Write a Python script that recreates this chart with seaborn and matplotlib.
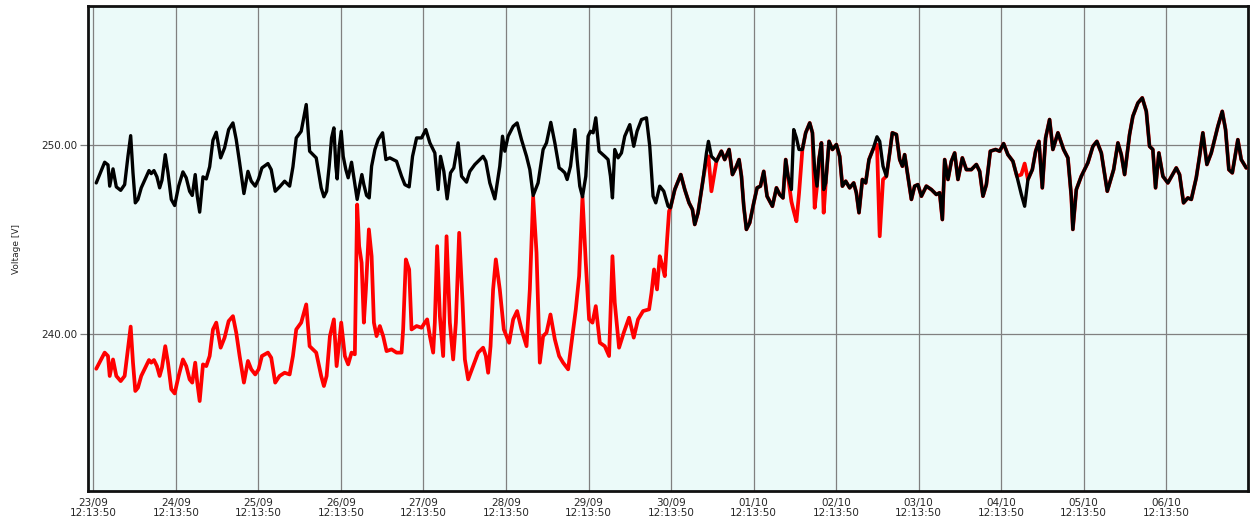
import matplotlib
matplotlib.use("Agg")
import matplotlib.pyplot as plt
import matplotlib.dates as mdates
import numpy as np
import pandas as pd
import seaborn as sns

# Logger start and the two voltage traces (time in days since start, voltage in V)
start_time = "2021-09-23 12:13:50"

black_day = [
    0.036, 0.138, 0.178, 0.199, 0.239, 0.279, 0.332, 0.380, 0.420, 0.453,
    0.481, 0.509, 0.541, 0.581, 0.630, 0.675, 0.702, 0.735, 0.771, 0.804,
    0.832, 0.872, 0.905, 0.945, 0.986, 1.034, 1.086, 1.126, 1.167, 1.199,
    1.235, 1.260, 1.289, 1.329, 1.369, 1.410, 1.450, 1.490, 1.543, 1.591,
    1.640, 1.692, 1.732, 1.773, 1.825, 1.874, 1.914, 1.962, 2.003, 2.043,
    2.116, 2.156, 2.204, 2.257, 2.318, 2.379, 2.419, 2.459, 2.519, 2.580,
    2.621, 2.701, 2.761, 2.794,
    2.827, 2.858, 2.887, 2.915, 2.939, 2.955, 2.979, 3.004, 3.028, 3.060,
    3.088, 3.129, 3.161, 3.197, 3.230, 3.254, 3.278, 3.311, 3.343, 3.372,
    3.412, 3.452, 3.505, 3.545, 3.593, 3.674, 3.735, 3.775, 3.827, 3.868,
    3.917, 3.977, 4.029, 4.078, 4.138, 4.178, 4.207, 4.247, 4.287, 4.328,
    4.368, 4.420, 4.462, 4.522, 4.562, 4.623, 4.723, 4.756, 4.804, 4.865,
    4.925, 4.958, 4.986, 5.026, 5.087, 5.135, 5.188, 5.249, 5.289, 5.329,
    5.389, 5.450, 5.491, 5.543, 5.592, 5.644,
    5.673, 5.713, 5.741, 5.782, 5.834, 5.862, 5.894, 5.927, 5.967, 5.995,
    6.024, 6.056, 6.088, 6.128, 6.197, 6.237, 6.266, 6.290, 6.318, 6.358,
    6.399, 6.439, 6.500, 6.548, 6.588, 6.642, 6.702, 6.742, 6.782, 6.815,
    6.863, 6.912, 6.964, 6.993, 7.045, 7.118, 7.166, 7.218, 7.259, 7.287,
    7.327, 7.388, 7.429, 7.453, 7.489, 7.550, 7.610, 7.650, 7.703, 7.744,
    7.784, 7.824, 7.853, 7.881, 7.913, 7.953, 8.002, 8.042, 8.083, 8.123,
    8.163, 8.228, 8.277, 8.316, 8.356, 8.389, 8.417, 8.458, 8.486, 8.519,
    8.550, 8.591, 8.631, 8.680, 8.713, 8.740, 8.768, 8.792, 8.822, 8.849,
    8.874, 8.914, 8.955, 9.003, 9.043, 9.076, 9.116, 9.164, 9.213, 9.245,
    9.277, 9.318, 9.358, 9.398, 9.446, 9.495, 9.528, 9.568, 9.609, 9.649,
    9.681, 9.730, 9.770, 9.803, 9.830, 9.870, 9.912, 9.951, 9.991, 10.033,
    10.093, 10.154, 10.214, 10.254, 10.287, 10.315, 10.355, 10.396, 10.436, 10.476,
    10.529, 10.578, 10.638, 10.699, 10.739, 10.779, 10.820, 10.868, 10.932, 10.981,
    11.029, 11.081, 11.142, 11.190,
    11.244, 11.284, 11.324, 11.377, 11.417, 11.457, 11.498, 11.538, 11.586, 11.626,
    11.687, 11.756, 11.808, 11.849, 11.868, 11.910, 11.970, 12.050, 12.111, 12.159,
    12.213, 12.285, 12.362, 12.414, 12.455, 12.495, 12.555, 12.595, 12.656, 12.709,
    12.758, 12.797, 12.837, 12.870, 12.910, 12.959, 13.019, 13.121, 13.161, 13.209,
    13.261, 13.303, 13.363, 13.403, 13.443, 13.492, 13.545, 13.625, 13.678, 13.718,
    13.758, 13.800, 13.867, 13.908, 13.969,
]

black_volt = [
    247.98, 249.07, 248.93, 247.81, 248.72, 247.77, 247.59, 247.89, 249.38, 250.47,
    248.51, 246.93, 247.11, 247.72, 248.19, 248.63, 248.47, 248.63, 248.30, 247.72,
    248.12, 249.47, 248.51, 247.11, 246.79, 247.81, 248.56, 248.25, 247.54, 247.32,
    248.42, 247.28, 246.44, 248.30, 248.19, 248.83, 250.23, 250.65, 249.30, 249.83,
    250.79, 251.14, 250.26, 249.04, 247.42, 248.59, 248.07, 247.81, 248.19, 248.77,
    249.00, 248.68, 247.54, 247.77, 248.07, 247.81, 248.83, 250.35, 250.70, 252.11,
    249.65, 249.30, 247.72, 247.25,
    247.54, 248.86, 250.35, 250.88, 248.86, 248.19, 249.83, 250.70, 249.38, 248.68,
    248.25, 249.07, 248.16, 247.11, 247.89, 248.42, 247.89, 247.32, 247.19, 248.86,
    249.74, 250.26, 250.62, 249.21, 249.30, 249.12, 248.33, 247.89, 247.77, 249.38,
    250.35, 250.35, 250.79, 250.09, 249.56, 247.63, 249.38, 248.59, 247.14, 248.51,
    248.77, 250.09, 248.33, 248.02, 248.59, 248.95, 249.38, 249.12, 247.98, 247.14,
    248.86, 250.44, 249.65, 250.44, 250.96, 251.14, 250.26, 249.38, 248.68, 247.32,
    247.98, 249.74, 250.09, 251.17, 250.09, 248.77,
    248.68, 248.51, 248.16, 248.86, 250.79, 249.21, 247.81, 247.25, 248.33, 250.44,
    250.70, 250.62, 251.41, 249.65, 249.38, 249.21, 248.33, 247.19, 249.74, 249.30,
    249.56, 250.44, 251.05, 249.91, 250.70, 251.32, 251.41, 249.91, 247.28, 246.93,
    247.81, 247.54, 246.75, 246.67, 247.63, 248.42, 247.63, 246.93, 246.58, 245.79,
    246.41, 248.16, 249.56, 250.17, 249.38, 249.12, 249.65, 249.21, 249.74, 248.42,
    248.77, 249.21, 248.33, 246.75, 245.53, 245.88, 246.93, 247.72, 247.81, 248.59,
    247.28, 246.75, 247.72, 247.37, 247.19, 249.21, 248.33, 247.63, 250.79, 250.35,
    249.74, 249.74, 250.62, 251.14, 250.62, 248.68, 247.81, 249.21, 250.09, 247.63,
    247.98, 250.17, 249.74, 250.00, 249.38, 247.81, 248.07, 247.72, 247.98, 247.46,
    246.41, 248.16, 247.98, 249.21, 249.74, 250.41, 250.17, 248.86, 248.33, 249.56,
    250.62, 250.53, 249.21, 248.86, 249.47, 248.33, 247.11, 247.81, 247.89, 247.28,
    247.81, 247.63, 247.37, 247.46, 246.05, 249.21, 248.16, 249.12, 249.56, 248.16,
    249.30, 248.68, 248.68, 248.95, 248.59, 247.28, 247.89, 249.65, 249.74, 249.65,
    250.05, 249.47, 249.12, 248.33,
    247.37, 246.75, 248.16, 248.68, 249.65, 250.17, 247.72, 250.35, 251.32, 249.74,
    250.62, 249.74, 249.30, 247.28, 245.53, 247.63, 248.33, 249.04, 249.91, 250.17,
    249.56, 247.54, 248.68, 250.09, 249.47, 248.42, 250.53, 251.49, 252.19, 252.46,
    251.75, 249.91, 249.74, 247.72, 249.56, 248.33, 247.98, 248.77, 248.42, 246.93,
    247.19, 247.11, 248.25, 249.38, 250.62, 248.95, 249.56, 250.96, 251.75, 250.79,
    248.68, 248.51, 250.26, 249.21, 248.77,
]

red_day = [
    0.036, 0.138, 0.178, 0.199, 0.239, 0.279, 0.332, 0.380, 0.420, 0.453,
    0.481, 0.509, 0.541, 0.581, 0.630, 0.675, 0.702, 0.735, 0.771, 0.804,
    0.832, 0.872, 0.905, 0.945, 0.986, 1.034, 1.086, 1.126, 1.167, 1.199,
    1.235, 1.260, 1.289, 1.329, 1.369, 1.410, 1.450, 1.490, 1.543, 1.591,
    1.640, 1.692, 1.732, 1.773, 1.825, 1.874, 1.914, 1.962, 2.003, 2.043,
    2.116, 2.156, 2.204, 2.257, 2.318, 2.379, 2.419, 2.459, 2.519, 2.580,
    2.621, 2.701, 2.761, 2.794,
    2.827, 2.867, 2.915, 2.948, 2.979, 3.004, 3.048, 3.088, 3.129, 3.169,
    3.197, 3.221, 3.251, 3.278, 3.303, 3.339, 3.372, 3.400, 3.432, 3.472,
    3.512, 3.553, 3.614, 3.674, 3.735, 3.754, 3.787, 3.827, 3.856, 3.917,
    3.977, 4.017, 4.045, 4.078, 4.118, 4.138, 4.166, 4.199, 4.239, 4.280,
    4.320, 4.360, 4.393, 4.433, 4.474, 4.502, 4.542, 4.602, 4.663, 4.723,
    4.756, 4.784, 4.813, 4.844, 4.877, 4.925, 4.974, 5.038, 5.087, 5.135,
    5.188, 5.249, 5.289, 5.329, 5.370, 5.410, 5.450, 5.491, 5.539, 5.592,
    5.644,
    5.692, 5.753, 5.794, 5.846, 5.886, 5.927, 5.967, 6.007, 6.048, 6.088,
    6.137, 6.197, 6.249, 6.270, 6.290, 6.318, 6.370, 6.427, 6.491, 6.548,
    6.600, 6.661, 6.734, 6.763, 6.794, 6.830, 6.863, 6.896, 6.924, 6.952,
    6.976,
    6.993, 7.045, 7.118, 7.166, 7.218, 7.259, 7.287,
    7.327, 7.388, 7.429, 7.453, 7.489, 7.550, 7.610, 7.650, 7.703, 7.744,
    7.784, 7.824, 7.853, 7.881, 7.913, 7.953, 8.002, 8.042, 8.083, 8.123,
    8.163, 8.228, 8.277, 8.316, 8.356, 8.389, 8.417, 8.458, 8.486, 8.519,
    8.550, 8.591, 8.631, 8.680, 8.713, 8.740, 8.768, 8.792, 8.822, 8.849,
    8.874, 8.914, 8.955, 9.003, 9.043, 9.076, 9.116, 9.164, 9.213, 9.245,
    9.277, 9.318, 9.358, 9.398, 9.446, 9.495, 9.528, 9.568, 9.609, 9.649,
    9.681, 9.730, 9.770, 9.803, 9.830, 9.870, 9.912, 9.951, 9.991, 10.033,
    10.093, 10.154, 10.214, 10.254, 10.287, 10.315, 10.355, 10.396, 10.436, 10.476,
    10.529, 10.578, 10.638, 10.699, 10.739, 10.779, 10.820, 10.868, 10.932, 10.981,
    11.029, 11.081, 11.142, 11.190,
    11.244, 11.284, 11.324, 11.377, 11.417, 11.457, 11.498, 11.538, 11.586, 11.626,
    11.687, 11.756, 11.808, 11.849, 11.868, 11.910, 11.970, 12.050, 12.111, 12.159,
    12.213, 12.285, 12.362, 12.414, 12.455, 12.495, 12.555, 12.595, 12.656, 12.709,
    12.758, 12.797, 12.837, 12.870, 12.910, 12.959, 13.019, 13.121, 13.161, 13.209,
    13.261, 13.303, 13.363, 13.403, 13.443, 13.492, 13.545, 13.625, 13.678, 13.718,
    13.758, 13.800, 13.867, 13.908, 13.969,
]

red_volt = [
    238.19, 239.04, 238.86, 237.81, 238.68, 237.81, 237.54, 237.81, 239.21, 240.41,
    238.51, 237.02, 237.19, 237.81, 238.25, 238.65, 238.51, 238.65, 238.33, 237.81,
    238.25, 239.38, 238.51, 237.11, 236.89, 237.81, 238.68, 238.33, 237.63, 237.46,
    238.51, 237.46, 236.49, 238.42, 238.33, 238.86, 240.26, 240.62, 239.30, 239.83,
    240.70, 240.96, 240.09, 238.86, 237.46, 238.60, 238.16, 237.89, 238.16, 238.86,
    239.04, 238.77, 237.46, 237.81, 237.98, 237.89, 238.86, 240.26, 240.62, 241.58,
    239.38, 239.04, 237.81, 237.28,
    237.81, 239.91, 240.79, 238.33, 239.56, 240.62, 238.86, 238.42, 239.04, 238.95,
    246.84, 244.65, 243.77, 240.62, 242.37, 245.53, 244.12, 240.62, 239.91, 240.44,
    239.91, 239.12, 239.21, 239.04, 239.04, 240.26, 243.95, 243.42, 240.26, 240.44,
    240.35, 240.62, 240.79, 239.91, 239.04, 240.62, 244.65, 240.96, 238.86, 245.17,
    240.62, 238.68, 240.62, 245.35, 241.67, 238.68, 237.63, 238.33, 239.04, 239.30,
    238.86, 237.98, 239.38, 242.37, 243.95, 242.37, 240.26, 239.56, 240.79, 241.23,
    240.26, 239.38, 242.37, 247.25, 244.30, 238.51, 239.91, 240.09, 241.05, 239.74,
    238.86,
    238.51, 238.16, 239.56, 241.32, 243.07, 247.25, 243.77, 240.79, 240.62, 241.49,
    239.56, 239.38, 238.86, 241.49, 244.12, 241.67, 239.30, 240.09, 240.88, 239.83,
    240.79, 241.23, 241.32, 242.19, 243.42, 242.37, 244.12, 243.60, 243.07, 245.00,
    246.49,
    246.67, 247.63, 248.42, 247.63, 246.93, 246.58, 245.79,
    246.41, 248.16, 249.20, 249.38, 247.54, 249.12, 249.65, 249.21, 249.74, 248.42,
    248.77, 249.21, 248.33, 246.75, 245.53, 245.88, 246.93, 247.72, 247.81, 248.59,
    247.28, 246.75, 247.72, 247.37, 247.19, 249.21, 248.33, 247.00, 246.50, 245.96,
    247.40, 249.74, 250.62, 251.14, 250.62, 246.67, 247.81, 249.21, 250.09, 246.41,
    247.98, 250.17, 249.74, 250.00, 249.38, 247.81, 248.07, 247.72, 247.98, 247.46,
    246.41, 248.16, 247.98, 249.21, 249.74, 250.00, 245.17, 248.16, 248.33, 249.56,
    250.62, 250.53, 249.21, 248.86, 249.47, 248.33, 247.11, 247.81, 247.89, 247.28,
    247.81, 247.63, 247.37, 247.46, 246.05, 249.21, 248.16, 249.12, 249.56, 248.16,
    249.30, 248.68, 248.68, 248.95, 248.59, 247.28, 247.89, 249.65, 249.74, 249.65,
    250.05, 249.47, 249.12, 248.33,
    248.42, 249.00, 248.16, 248.68, 249.65, 250.17, 247.72, 250.35, 251.32, 249.74,
    250.62, 249.74, 249.30, 247.28, 245.53, 247.63, 248.33, 249.04, 249.91, 250.17,
    249.56, 247.54, 248.68, 250.09, 249.47, 248.42, 250.53, 251.49, 252.19, 252.46,
    251.75, 249.91, 249.74, 247.72, 249.56, 248.33, 247.98, 248.77, 248.42, 246.93,
    247.19, 247.11, 248.25, 249.38, 250.62, 248.95, 249.56, 250.96, 251.75, 250.79,
    248.68, 248.51, 250.26, 249.21, 248.77,
]

tick_days = list(range(14))
y_ticks = [240.0, 250.0]
y_tick_labels = ["240.00", "250.00"]
y_label = "Voltage [V]"

# ---------------------------------------------------------------------------
sns.set_style("white")
plt.rcParams["font.family"] = ["DejaVu Sans"]

t0 = pd.Timestamp(start_time)
df_black = pd.DataFrame({"time": t0 + pd.to_timedelta(black_day, unit="D"),
                         "voltage": black_volt})
df_red = pd.DataFrame({"time": t0 + pd.to_timedelta(red_day, unit="D"),
                       "voltage": red_volt})

fig = plt.figure(figsize=(12.5, 5.23), dpi=100)
fig.patch.set_facecolor("white")
ax = fig.add_axes([88 / 1250, 1 - 491 / 523, (1248 - 88) / 1250, (491 - 6) / 523])
ax.set_facecolor("#EBFAF9")

sns.lineplot(data=df_red, x="time", y="voltage", ax=ax, color="#FF0000",
             linewidth=2.7, estimator=None, sort=False, zorder=3,
             solid_joinstyle="round", solid_capstyle="round")
sns.lineplot(data=df_black, x="time", y="voltage", ax=ax, color="#000000",
             linewidth=2.4, estimator=None, sort=False, zorder=4,
             solid_joinstyle="round", solid_capstyle="round")

ax.set_xlim(t0 - pd.Timedelta(days=0.064), t0 + pd.Timedelta(days=13.99))
ax.set_ylim(231.75, 257.3)

ax.set_xticks([t0 + pd.Timedelta(days=d) for d in tick_days])
ax.xaxis.set_major_formatter(mdates.DateFormatter("%d/%m\n%H:%M:%S"))
ax.set_yticks(y_ticks)
ax.set_yticklabels(y_tick_labels)

ax.grid(True, color="#808080", linewidth=0.9, zorder=1)
ax.set_axisbelow(True)

ax.tick_params(axis="x", length=0, pad=5, labelsize=7.5)
ax.tick_params(axis="y", length=6, width=0.9, color="#808080", pad=2,
               labelsize=7.5, left=True)
for lab in ax.get_xticklabels():
    lab.set_linespacing(1.0)

ax.set_xlabel("")
ax.set_ylabel(y_label, fontsize=6.5, labelpad=14)

for side, spine in ax.spines.items():
    spine.set_visible(True)
    spine.set_color("#111111")
    spine.set_linewidth(2.0)

fig.savefig("out.png", dpi=100, facecolor="white")
